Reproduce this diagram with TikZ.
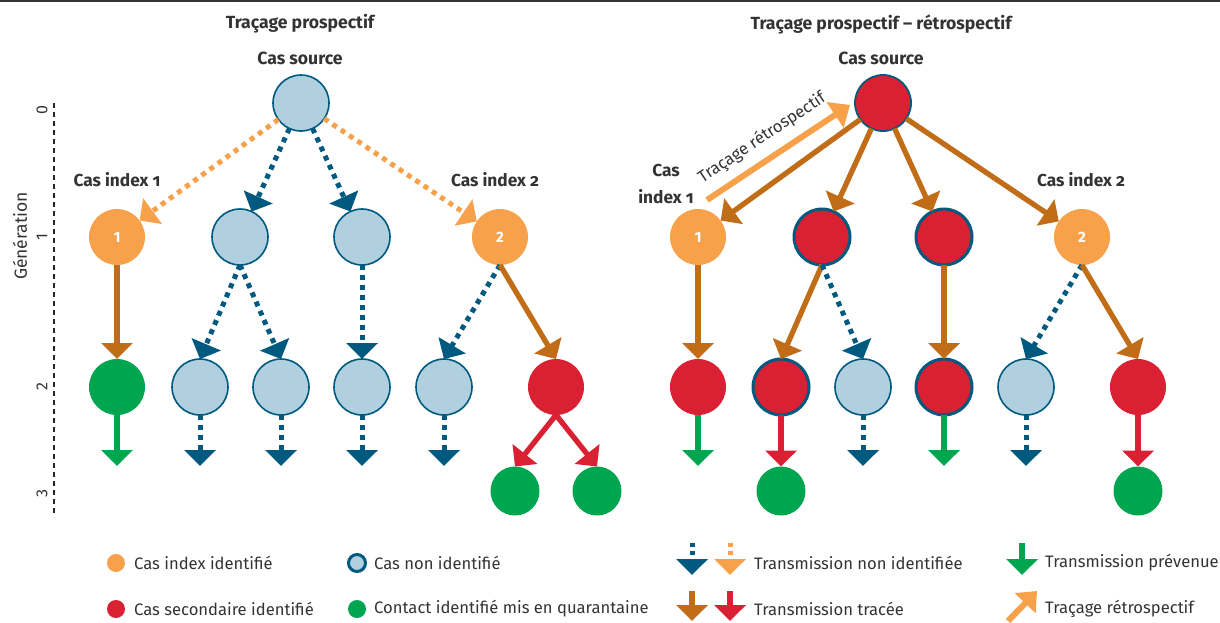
\documentclass[tikz,border=0pt]{standalone}
\usepackage{fontspec}
\setmainfont{Fira Sans}
\usetikzlibrary{arrows.meta}
\definecolor{corange}{HTML}{F7A14A}
\definecolor{cblue}{HTML}{B0D0E0}
\definecolor{cdark}{HTML}{005A7F}
\definecolor{cred}{HTML}{DA2033}
\definecolor{cgreen}{HTML}{00A54F}
\definecolor{cbrown}{HTML}{C16D17}
\definecolor{ctext}{HTML}{333333}
\tikzset{
  circ/.style={circle, minimum size=56pt, inner sep=0pt, outer sep=0pt},
  idx/.style={circ, fill=corange, text=white, font=\bfseries\fontsize{15}{15}\selectfont},
  unk/.style={circ, fill=cblue, draw=cdark, line width=1.6pt},
  sec/.style={circ, fill=cred},
  secb/.style={circ, fill=cred, draw=cdark, line width=3pt},
  quar/.style={circ, fill=cgreen},
  quarsm/.style={circle, minimum size=49pt, inner sep=0pt, outer sep=0pt, fill=cgreen},
  tipb/.style={-{Triangle[width=31pt,length=16pt]}},
  dotline/.style={tipb, line width=5pt, dash pattern=on 5pt off 5pt},
  tdark/.style={dotline, draw=cdark},
  torange/.style={dotline, draw=corange},
  tbrown/.style={tipb, line width=5.3pt, draw=cbrown},
  tred/.style={tipb, line width=5.3pt, draw=cred},
  tgreen/.style={tipb, line width=5.3pt, draw=cgreen},
  tretro/.style={-{Triangle[width=30pt,length=18pt]}, line width=6pt, draw=corange},
  lbl/.style={font=\bfseries\fontsize{17.3}{27}\selectfont\addfontfeatures{Numbers=OldStyle}, text=ctext, inner sep=0pt},
  ttl/.style={font=\bfseries\fontsize{17.6}{20}\selectfont, text=ctext, inner sep=0pt},
  legtxt/.style={font=\fontsize{16.6}{19}\selectfont, text=ctext, inner sep=0pt, anchor=west},
  axlbl/.style={font=\fontsize{16}{18}\selectfont, text=ctext, inner sep=0pt, rotate=90},
  legdot/.style={circle, minimum size=18pt, inner sep=0pt},
}
\begin{document}
\begin{tikzpicture}[x=1pt,y=-1pt]
\useasboundingbox (0,0) rectangle (1220,622);
\draw[line width=1.5pt, draw=ctext] (0,0.75) -- (1220,0.75);

% ---------- axis ----------
\draw[line width=2.6pt, draw=black!85, dash pattern=on 5pt off 4pt] (54,103) -- (54,517);
\node[axlbl] at (42,110) {0};
\node[axlbl] at (42,237) {1};
\node[axlbl] at (42,387) {2};
\node[axlbl] at (42,493) {3};
\node[axlbl, font=\fontsize{17.5}{20}\selectfont] at (20,236) {Génération};

% ---------- left tree ----------
\node[ttl] at (300,24) {Traçage prospectif};
\node[ttl] at (300,58) {Cas source};
\node[unk] (Ls) at (301,103) {};
\node[idx] (L1a) at (117,237) {1};
\node[unk] (L1b) at (240,237) {};
\node[unk] (L1c) at (362,237) {};
\node[idx] (L1d) at (500,237) {2};
\node[lbl] at (117,180) {Cas index 1};
\node[lbl] at (495,180) {Cas index 2};
\node[quar] (L2a) at (117,387) {};
\node[unk] (L2b) at (200,387) {};
\node[unk] (L2c) at (281,387) {};
\node[unk] (L2d) at (362,387) {};
\node[unk] (L2e) at (444,387) {};
\node[sec] (L2f) at (556,387) {};
\node[quarsm] (L3a) at (515,491) {};
\node[quarsm] (L3b) at (597,491) {};
\coordinate (L2aS) at (117,466);
\coordinate (L2bS) at (200,466);
\coordinate (L2cS) at (281,466);
\coordinate (L2dS) at (362,466);
\coordinate (L2eS) at (444,466);

\draw[torange] (Ls) -- (L1a);
\draw[tdark] (Ls) -- (L1b);
\draw[tdark] (Ls) -- (L1c);
\draw[torange] (Ls) -- (L1d);
\draw[tbrown] (L1a.south) -- (L2a.north);
\draw[tdark] (L1b.south) -- (L2b.north);
\draw[tdark] (L1b.south) -- (L2c.north);
\draw[tdark] (L1c.south) -- (L2d.north);
\draw[tdark] (L1d.south) -- (L2e.north);
\draw[tbrown] (L1d.south) -- (L2f.north);
\draw[tred] (L2f.south) -- (L3a.north);
\draw[tred] (L2f.south) -- (L3b.north);
\draw[tgreen] (L2a.south) -- (L2aS);
\draw[tdark] (L2b.south) -- (L2bS);
\draw[tdark] (L2c.south) -- (L2cS);
\draw[tdark] (L2d.south) -- (L2dS);
\draw[tdark] (L2e.south) -- (L2eS);

% ---------- right tree ----------
\node[ttl] at (881,24) {Traçage prospectif – rétrospectif};
\node[ttl] at (881,58) {Cas source};
\node[secb, line width=1.8pt] (Rs) at (883,103) {};
\node[idx] (R1a) at (698,237) {1};
\node[secb] (R1b) at (822,237) {};
\node[secb] (R1c) at (944,237) {};
\node[idx] (R1d) at (1082,237) {2};
\node[lbl, align=center] at (666,184) {Cas\\index 1};
\node[lbl] at (1081,180) {Cas index 2};
\node[sec] (R2a) at (698,387) {};
\node[secb] (R2b) at (781,387) {};
\node[unk] (R2c) at (863,387) {};
\node[secb] (R2d) at (944,387) {};
\node[unk] (R2e) at (1026,387) {};
\node[sec] (R2f) at (1138,387) {};
\node[quarsm] (R3a) at (781,491) {};
\node[quarsm] (R3b) at (1138,491) {};
\coordinate (R2aS) at (698,466);
\coordinate (R2cS) at (863,466);
\coordinate (R2dS) at (944,466);
\coordinate (R2eS) at (1026,466);

\coordinate (retroA) at (707,200);
\coordinate (retroB) at (850,105);
\draw[tretro] (retroA) -- (retroB);
\node[font=\fontsize{16.6}{19}\selectfont, text=ctext, rotate=33.6, inner sep=0pt] at (762,138) {Traçage rétrospectif};

\draw[tbrown] (Rs) -- (R1a);
\draw[tbrown] (Rs) -- (R1b);
\draw[tbrown] (Rs) -- (R1c);
\draw[tbrown] (Rs) -- (R1d);
\draw[tbrown] (R1a.south) -- (R2a.north);
\draw[tbrown] (R1b.south) -- (R2b.north);
\draw[tdark] (R1b.south) -- (R2c.north);
\draw[tbrown] (R1c.south) -- (R2d.north);
\draw[tdark] (R1d.south) -- (R2e.north);
\draw[tbrown] (R1d.south) -- (R2f.north);
\draw[tred] (R2b.south) -- (R3a.north);
\draw[tred] (R2f.south) -- (R3b.north);
\draw[tgreen] (R2a.south) -- (R2aS);
\draw[tdark] (R2c.south) -- (R2cS);
\draw[tgreen] (R2d.south) -- (R2dS);
\draw[tdark] (R2e.south) -- (R2eS);

% ---------- legend ----------
\node[legdot, fill=corange] (g1) at (116,563) {};
\node[legtxt] at (134,563) {Cas index identifié};
\node[legdot, fill=cblue, draw=cdark, line width=3pt, minimum size=17pt] (g2) at (357,563) {};
\node[legtxt] at (374,563) {Cas non identifié};
\node[legdot, fill=cred] (g3) at (116,609) {};
\node[legtxt] at (134,609) {Cas secondaire identifié};
\node[legdot, fill=cgreen] (g4) at (357,609) {};
\node[legtxt] at (374,609) {Contact identifié mis en quarantaine};

\coordinate (a1s) at (692,543); \coordinate (a1e) at (692,575);
\coordinate (a2s) at (730,543); \coordinate (a2e) at (730,575);
\coordinate (a3s) at (692,591); \coordinate (a3e) at (692,621);
\coordinate (a4s) at (730,591); \coordinate (a4e) at (730,621);
\coordinate (a5s) at (1022,543); \coordinate (a5e) at (1022,575);
\coordinate (a6s) at (1008,621); \coordinate (a6e) at (1037,591);
\draw[tdark, dash pattern=on 4pt off 4pt] (a1s) -- (a1e);
\draw[torange, dash pattern=on 4pt off 4pt] (a2s) -- (a2e);
\draw[tbrown] (a3s) -- (a3e);
\draw[tred] (a4s) -- (a4e);
\draw[tgreen] (a5s) -- (a5e);
\draw[-{Triangle[width=28pt,length=17pt]}, line width=6pt, draw=corange] (a6s) -- (a6e);
\node[legtxt] at (754,563) {Transmission non identifiée};
\node[legtxt] at (754,609) {Transmission tracée};
\node[legtxt] at (1045,563) {Transmission prévenue};
\node[legtxt] at (1045,609) {Traçage rétrospectif};
\end{tikzpicture}
\end{document}
